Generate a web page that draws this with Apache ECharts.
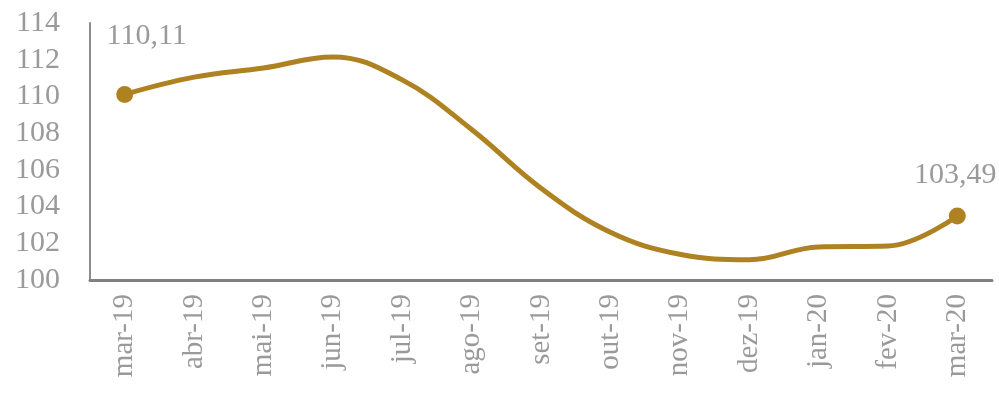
<!DOCTYPE html>
<html>
<head>
<meta charset="utf-8">
<script src="https://cdn.jsdelivr.net/npm/echarts@6/dist/echarts.min.js"></script>
<style>
  html, body { margin: 0; padding: 0; background: #fff; }
  #chart { width: 999px; height: 408px; }
</style>
</head>
<body>
<div id="chart"></div>
<script>
const months = ['mar-19', 'abr-19', 'mai-19', 'jun-19', 'jul-19', 'ago-19', 'set-19',
  'out-19', 'nov-19', 'dez-19', 'jan-20', 'fev-20', 'mar-20']
const values = [110.11, 111.05, 111.55, 112.15, 110.9, 108.2, 105.0,
  102.6, 101.4, 101.1, 101.8, 101.85, 103.49]
// only first and last points get a dot + label
const markedIdx = [0, 12]

const lineColor = '#AE8221'
const textGrey = '#9a9a9a'
const serif = '"Liberation Serif", "DejaVu Serif", serif'

const chart = echarts.init(document.getElementById('chart'))

const seriesData = values.map((v, i) => {
  if (!markedIdx.includes(i)) return { value: v, symbol: 'none' }
  return {
    value: v,
    symbol: 'circle',
    symbolSize: 17,
    label: {
      show: true,
      position: 'top',
      offset: i === 0 ? [22, -30] : [-2, -12],
      formatter: (p) => p.value.toFixed(2).replace('.', ','),
      color: textGrey,
      fontFamily: serif,
      fontSize: 30
    }
  }
})

chart.setOption({
  animation: false,
  grid: { left: 90, right: 7, top: 23, bottom: 128, containLabel: false },
  xAxis: {
    type: 'category',
    data: months,
    boundaryGap: true,
    axisLine: { lineStyle: { color: '#808080', width: 3 } },
    axisTick: { show: false },
    axisLabel: {
      rotate: 90,
      interval: 0,
      margin: 14,
      color: textGrey,
      fontFamily: serif,
      fontSize: 29
    }
  },
  yAxis: {
    type: 'value',
    min: 100,
    max: 114,
    interval: 2,
    splitLine: { show: false },
    axisTick: { show: false },
    axisLine: { show: true, lineStyle: { color: '#8c8c8c', width: 2 } },
    axisLabel: {
      margin: 30,
      color: textGrey,
      fontFamily: serif,
      fontSize: 30
    }
  },
  series: [
    {
      type: 'line',
      data: seriesData,
      smooth: 0.4,
      showAllSymbol: true,
      lineStyle: { color: lineColor, width: 5 },
      itemStyle: { color: lineColor }
    }
  ]
})
</script>
</body>
</html>
